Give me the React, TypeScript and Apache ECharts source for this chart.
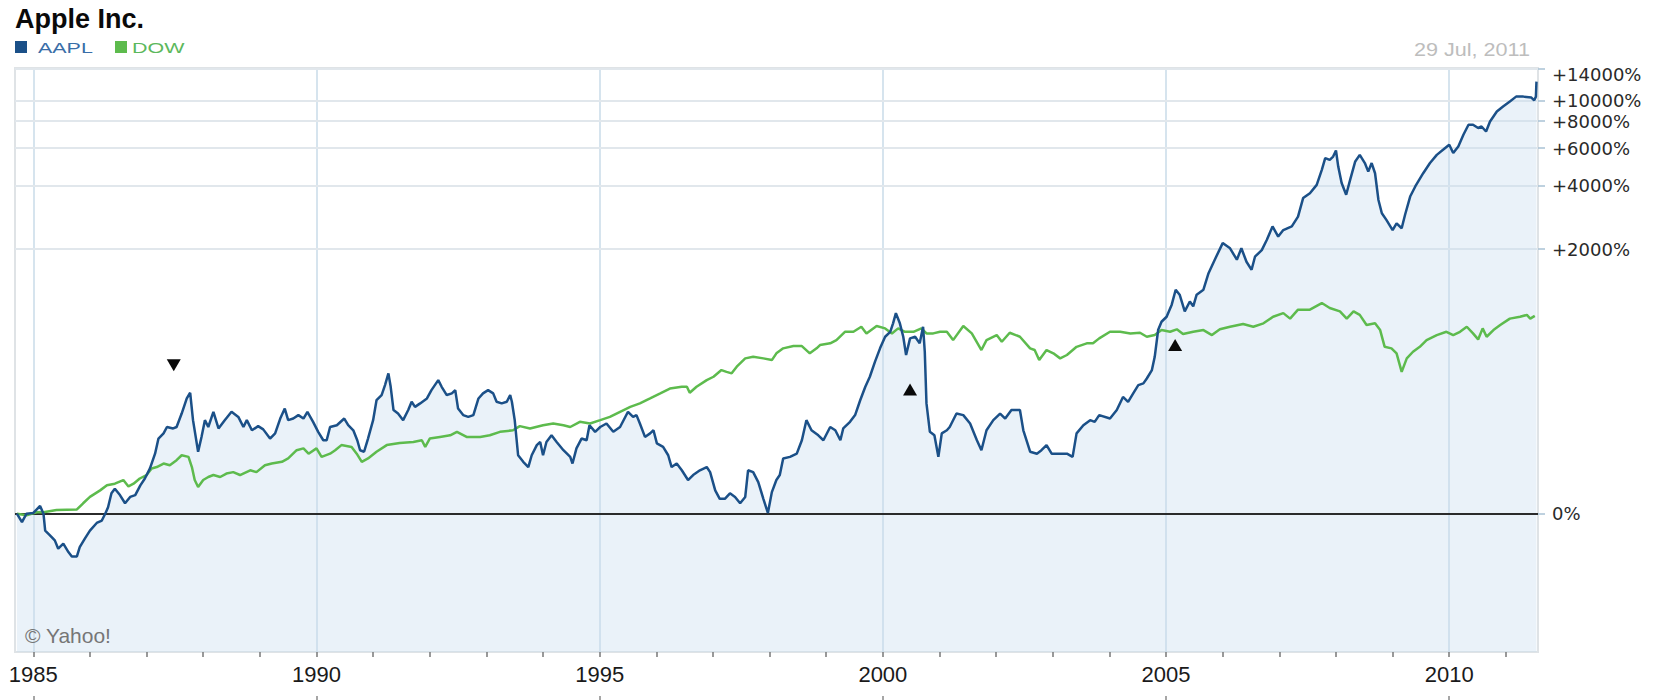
import React, { useEffect, useRef } from 'react';
import * as echarts from 'echarts';

// ---------- texts ----------
const TITLE = 'Apple Inc.';
const DATE_LABEL = '29 Jul, 2011';
const CREDIT = '\u00A9 Yahoo!';
const NAMES = ['AAPL', 'DOW'];
const COLORS = { aapl: '#1b5088', aaplText: '#3a6ea8', dow: '#5dbb4d', dowText: '#5cb85c' };

// ---------- axes ----------
const X_MIN = 1984.677;
const X_MAX = 2011.567;
const Y_MIN = 0.3;
const Y_MAX = 142;
const BASE = 1.29; // level of the "0%" line (start of both series)
const X_TICK_YEARS = [1985, 1986, 1987, 1988, 1989, 1990, 1991, 1992, 1993, 1994, 1995, 1996, 1997, 1998, 1999, 2000, 2001, 2002, 2003, 2004, 2005, 2006, 2007, 2008, 2009, 2010, 2011];
const X_LABEL_YEARS = [1985, 1990, 1995, 2000, 2005, 2010];
const Y_TICK_PCTS = [2000, 4000, 6000, 8000, 10000, 14000];

// ---------- data: [year, growth multiple] ----------
const AAPL: [number, number][] = [
  [1984.71, 1.29], [1984.80, 1.18], [1984.88, 1.29], [1985.00, 1.30], [1985.12, 1.40], [1985.18, 1.29], [1985.21, 1.08], [1985.29, 1.03],
  [1985.38, 0.974], [1985.44, 0.892], [1985.53, 0.940], [1985.62, 0.861], [1985.68, 0.822], [1985.77, 0.822], [1985.82, 0.907], [1985.91, 0.992],
  [1986.00, 1.08], [1986.12, 1.17], [1986.21, 1.20], [1986.27, 1.29], [1986.32, 1.38], [1986.38, 1.60], [1986.44, 1.68], [1986.53, 1.57],
  [1986.62, 1.44], [1986.71, 1.54], [1986.80, 1.57], [1986.89, 1.74], [1986.97, 1.87], [1987.06, 2.08], [1987.15, 2.43], [1987.21, 2.85],
  [1987.30, 3.01], [1987.36, 3.22], [1987.47, 3.17], [1987.53, 3.22], [1987.62, 3.71], [1987.71, 4.35], [1987.77, 4.62], [1987.82, 3.46],
  [1987.91, 2.48], [1987.97, 2.90], [1988.03, 3.46], [1988.09, 3.22], [1988.18, 3.78], [1988.27, 3.17], [1988.38, 3.46], [1988.50, 3.78],
  [1988.62, 3.58], [1988.71, 3.22], [1988.77, 3.46], [1988.86, 3.11], [1988.97, 3.25], [1989.06, 3.14], [1989.18, 2.85], [1989.27, 3.01],
  [1989.36, 3.52], [1989.44, 3.91], [1989.50, 3.46], [1989.59, 3.52], [1989.68, 3.65], [1989.77, 3.52], [1989.84, 3.78], [1989.94, 3.40],
  [1990.03, 3.06], [1990.12, 2.80], [1990.18, 2.80], [1990.24, 3.22], [1990.36, 3.28], [1990.49, 3.52], [1990.56, 3.28], [1990.65, 3.11],
  [1990.72, 2.80], [1990.77, 2.52], [1990.84, 2.48], [1990.91, 2.85], [1991.00, 3.46], [1991.06, 4.27], [1991.15, 4.51], [1991.21, 5.01],
  [1991.27, 5.67], [1991.31, 4.92], [1991.36, 3.85], [1991.44, 3.71], [1991.53, 3.46], [1991.62, 3.85], [1991.68, 4.20], [1991.74, 3.98],
  [1991.83, 4.13], [1991.95, 4.35], [1992.03, 4.75], [1992.15, 5.28], [1992.21, 4.92], [1992.30, 4.51], [1992.39, 4.59], [1992.45, 4.75],
  [1992.50, 3.91], [1992.59, 3.65], [1992.68, 3.58], [1992.77, 3.65], [1992.86, 4.35], [1992.94, 4.59], [1993.03, 4.75], [1993.12, 4.59],
  [1993.18, 4.20], [1993.27, 4.13], [1993.36, 4.20], [1993.42, 4.51], [1993.45, 4.20], [1993.50, 3.46], [1993.56, 2.39], [1993.65, 2.23],
  [1993.74, 2.11], [1993.80, 2.39], [1993.89, 2.66], [1993.95, 2.75], [1994.00, 2.39], [1994.06, 2.75], [1994.15, 2.95], [1994.24, 2.75],
  [1994.36, 2.52], [1994.48, 2.35], [1994.52, 2.19], [1994.59, 2.57], [1994.68, 2.85], [1994.77, 2.80], [1994.82, 3.28], [1994.92, 3.06],
  [1995.01, 3.22], [1995.12, 3.34], [1995.24, 3.06], [1995.36, 3.22], [1995.50, 3.78], [1995.59, 3.58], [1995.65, 3.65], [1995.71, 3.34],
  [1995.80, 2.90], [1995.89, 3.01], [1995.95, 3.11], [1996.01, 2.71], [1996.12, 2.61], [1996.21, 2.39], [1996.27, 2.11], [1996.36, 2.19],
  [1996.45, 2.04], [1996.56, 1.84], [1996.65, 1.94], [1996.77, 2.04], [1996.89, 2.11], [1996.95, 2.00], [1997.04, 1.65], [1997.12, 1.51],
  [1997.21, 1.51], [1997.30, 1.60], [1997.39, 1.54], [1997.48, 1.44], [1997.57, 1.54], [1997.62, 2.04], [1997.71, 2.00], [1997.80, 1.80],
  [1997.89, 1.51], [1997.97, 1.30], [1998.04, 1.62], [1998.12, 1.84], [1998.18, 1.94], [1998.24, 2.31], [1998.36, 2.35], [1998.48, 2.43],
  [1998.57, 2.80], [1998.65, 3.46], [1998.74, 3.11], [1998.86, 2.95], [1998.95, 2.80], [1999.07, 3.22], [1999.16, 3.11], [1999.25, 2.80],
  [1999.30, 3.17], [1999.42, 3.40], [1999.51, 3.65], [1999.60, 4.27], [1999.69, 4.92], [1999.77, 5.47], [1999.86, 6.40], [1999.95, 7.38],
  [2000.04, 8.34], [2000.13, 8.79], [2000.18, 9.61], [2000.23, 10.7], [2000.30, 9.61], [2000.36, 8.34], [2000.41, 6.88], [2000.48, 8.20],
  [2000.57, 8.34], [2000.65, 7.78], [2000.71, 9.27], [2000.74, 7.12], [2000.77, 4.13], [2000.83, 3.06], [2000.91, 2.95], [2000.98, 2.35],
  [2001.04, 3.01], [2001.13, 3.11], [2001.18, 3.22], [2001.30, 3.71], [2001.42, 3.65], [2001.54, 3.34], [2001.66, 2.80], [2001.74, 2.52],
  [2001.83, 3.11], [2001.95, 3.46], [2002.07, 3.71], [2002.16, 3.52], [2002.27, 3.85], [2002.42, 3.85], [2002.48, 3.11], [2002.60, 2.48],
  [2002.72, 2.43], [2002.80, 2.52], [2002.89, 2.66], [2002.98, 2.43], [2003.13, 2.43], [2003.25, 2.43], [2003.35, 2.35], [2003.42, 3.01],
  [2003.54, 3.28], [2003.66, 3.46], [2003.74, 3.40], [2003.82, 3.65], [2004.01, 3.52], [2004.13, 3.85], [2004.24, 4.42], [2004.33, 4.20],
  [2004.42, 4.59], [2004.51, 5.01], [2004.60, 5.10], [2004.66, 5.37], [2004.75, 5.87], [2004.80, 6.75], [2004.86, 8.95], [2004.92, 9.77],
  [2005.01, 10.3], [2005.10, 11.7], [2005.17, 13.7], [2005.24, 13.0], [2005.33, 10.9], [2005.42, 12.1], [2005.48, 11.5], [2005.54, 13.0],
  [2005.66, 13.7], [2005.75, 16.3], [2005.86, 18.8], [2006.00, 22.4], [2006.13, 21.2], [2006.25, 18.8], [2006.33, 21.2], [2006.42, 18.4],
  [2006.51, 16.9], [2006.57, 19.4], [2006.69, 20.8], [2006.78, 23.2], [2006.88, 26.7], [2006.98, 24.0], [2007.07, 25.7], [2007.22, 26.7],
  [2007.33, 29.6], [2007.42, 36.0], [2007.54, 37.9], [2007.66, 41.4], [2007.75, 48.5], [2007.81, 54.9], [2007.89, 53.9], [2007.95, 55.8],
  [2008.00, 59.5], [2008.04, 50.2], [2008.10, 42.2], [2008.18, 37.3], [2008.25, 43.6], [2008.34, 53.0], [2008.42, 56.8], [2008.51, 52.1],
  [2008.57, 47.6], [2008.63, 52.1], [2008.69, 46.8], [2008.75, 35.3], [2008.81, 30.7], [2008.89, 28.6], [2009.00, 25.7], [2009.07, 27.6],
  [2009.16, 26.2], [2009.22, 30.2], [2009.31, 36.6], [2009.40, 40.7], [2009.54, 46.8], [2009.66, 52.1], [2009.78, 56.8], [2009.89, 59.9],
  [2010.00, 63.2], [2010.07, 57.9], [2010.16, 62.1], [2010.25, 70.2], [2010.34, 78.0], [2010.42, 78.0], [2010.51, 75.4], [2010.57, 76.6],
  [2010.65, 72.7], [2010.72, 80.8], [2010.84, 89.8], [2010.95, 94.7], [2011.07, 99.8], [2011.18, 105], [2011.31, 105], [2011.45, 104],
  [2011.50, 101], [2011.53, 105], [2011.54, 123],
];

const DOW: [number, number][] = [
  [1984.71, 1.29], [1984.88, 1.27], [1985.06, 1.31], [1985.18, 1.31], [1985.41, 1.34], [1985.77, 1.35], [1985.88, 1.44], [1986.00, 1.54],
  [1986.18, 1.65], [1986.30, 1.74], [1986.44, 1.77], [1986.59, 1.84], [1986.68, 1.72], [1986.77, 1.77], [1986.88, 1.87], [1987.00, 1.94],
  [1987.09, 2.08], [1987.18, 2.11], [1987.30, 2.19], [1987.41, 2.15], [1987.53, 2.27], [1987.62, 2.39], [1987.74, 2.35], [1987.80, 2.11],
  [1987.85, 1.84], [1987.91, 1.71], [1988.00, 1.84], [1988.09, 1.90], [1988.18, 1.94], [1988.30, 1.90], [1988.41, 1.97], [1988.53, 2.00],
  [1988.65, 1.94], [1988.83, 2.04], [1988.94, 2.00], [1989.09, 2.15], [1989.21, 2.19], [1989.39, 2.23], [1989.50, 2.31], [1989.65, 2.52],
  [1989.77, 2.57], [1989.86, 2.43], [1990.00, 2.57], [1990.09, 2.35], [1990.24, 2.43], [1990.33, 2.52], [1990.44, 2.66], [1990.62, 2.61],
  [1990.71, 2.43], [1990.80, 2.23], [1990.91, 2.31], [1991.06, 2.48], [1991.24, 2.66], [1991.47, 2.72], [1991.71, 2.75], [1991.86, 2.80],
  [1991.92, 2.61], [1992.00, 2.85], [1992.18, 2.90], [1992.36, 2.95], [1992.48, 3.06], [1992.65, 2.90], [1992.89, 2.90], [1993.06, 2.95],
  [1993.24, 3.06], [1993.47, 3.11], [1993.59, 3.25], [1993.77, 3.17], [1994.00, 3.28], [1994.18, 3.34], [1994.36, 3.28], [1994.48, 3.22],
  [1994.65, 3.40], [1994.83, 3.34], [1995.01, 3.46], [1995.18, 3.58], [1995.36, 3.78], [1995.54, 3.98], [1995.71, 4.13], [1995.89, 4.35],
  [1996.07, 4.59], [1996.24, 4.83], [1996.45, 4.92], [1996.54, 4.92], [1996.59, 4.62], [1996.71, 4.92], [1996.89, 5.28], [1997.01, 5.47],
  [1997.15, 5.87], [1997.24, 5.76], [1997.33, 5.67], [1997.42, 6.08], [1997.57, 6.64], [1997.71, 6.75], [1997.89, 6.64], [1998.04, 6.52],
  [1998.12, 7.00], [1998.24, 7.38], [1998.42, 7.56], [1998.57, 7.56], [1998.71, 7.00], [1998.83, 7.38], [1998.89, 7.64], [1999.07, 7.78],
  [1999.18, 8.05], [1999.33, 8.79], [1999.48, 8.79], [1999.62, 9.27], [1999.71, 8.64], [1999.89, 9.34], [2000.04, 9.11], [2000.16, 8.64],
  [2000.27, 9.11], [2000.39, 8.79], [2000.54, 8.79], [2000.68, 9.11], [2000.77, 8.64], [2000.89, 8.64], [2001.01, 8.79], [2001.13, 8.79],
  [2001.24, 8.05], [2001.42, 9.34], [2001.57, 8.64], [2001.74, 7.25], [2001.83, 8.05], [2002.01, 8.49], [2002.10, 7.91], [2002.24, 8.70],
  [2002.42, 8.34], [2002.60, 7.38], [2002.68, 7.25], [2002.76, 6.52], [2002.89, 7.25], [2003.01, 7.00], [2003.13, 6.64], [2003.25, 6.88],
  [2003.42, 7.50], [2003.60, 7.78], [2003.71, 7.78], [2003.82, 8.20], [2004.01, 8.79], [2004.19, 8.79], [2004.37, 8.64], [2004.54, 8.70],
  [2004.66, 8.34], [2004.80, 8.49], [2004.92, 8.95], [2005.07, 8.79], [2005.19, 9.02], [2005.30, 8.58], [2005.48, 8.79], [2005.66, 8.95],
  [2005.81, 8.49], [2005.95, 9.02], [2006.13, 9.27], [2006.36, 9.54], [2006.54, 9.27], [2006.72, 9.61], [2006.89, 10.3], [2007.07, 10.7],
  [2007.19, 10.1], [2007.33, 11.1], [2007.54, 11.1], [2007.75, 11.9], [2007.89, 11.3], [2008.07, 10.9], [2008.19, 10.1], [2008.31, 10.9],
  [2008.42, 10.5], [2008.54, 9.44], [2008.69, 9.61], [2008.78, 8.95], [2008.86, 7.50], [2008.98, 7.38], [2009.07, 7.00], [2009.16, 5.76],
  [2009.25, 6.64], [2009.36, 7.12], [2009.48, 7.50], [2009.60, 8.05], [2009.78, 8.49], [2009.95, 8.79], [2010.07, 8.49], [2010.19, 8.79],
  [2010.31, 9.27], [2010.42, 8.64], [2010.51, 8.11], [2010.59, 9.11], [2010.66, 8.34], [2010.78, 8.95], [2010.90, 9.44], [2011.07, 10.1],
  [2011.25, 10.3], [2011.37, 10.5], [2011.43, 10.1], [2011.51, 10.4],
];

// split events (triangles)
const SPLIT_YEARS = [1987.48, 2000.48, 2005.16];
const SPLIT_LEVELS = [6.18, 4.78, 7.64];
const SPLIT_POINTS_DOWN = [true, false, false];

const Y_TICK_VALUES = [BASE, ...Y_TICK_PCTS.map((p) => 1 + p / 100)];
const Y_TICK_LABELS = ['0%', ...Y_TICK_PCTS.map((p) => `+${p}%`)];

function yLabel(v: number): string {
  let best = 0;
  let bd = Infinity;
  Y_TICK_VALUES.forEach((t, i) => {
    const d = Math.abs(Math.log(v) - Math.log(t));
    if (d < bd) { bd = d; best = i; }
  });
  const t = Y_TICK_LABELS[best];
  return best === Y_TICK_VALUES.length - 1 ? `{top|${t}}` : t;
}

function buildOption(): any {
  const yLabelFont = { fontFamily: 'DejaVu Sans', fontSize: 18, color: '#2a2a2a' };
  return {
    animation: false,
    backgroundColor: '#ffffff',
    grid: {
      left: 15, right: 122, top: 68, bottom: 48,
      show: true, borderColor: '#dfe3e6', borderWidth: 2, backgroundColor: 'transparent',
      containLabel: false, outerBoundsMode: 'none',
    },
    xAxis: [
      {
        type: 'value', min: X_MIN, max: X_MAX, position: 'bottom',
        axisLine: { show: false },
        splitLine: { show: false },
        axisTick: { show: true, customValues: X_TICK_YEARS, length: 5, lineStyle: { color: '#777', width: 1.5 } },
        axisLabel: {
          show: true, customValues: X_LABEL_YEARS, margin: 11,
          formatter: (v: number) => String(Math.round(v)),
          fontFamily: "'Liberation Sans Narrow', 'Liberation Sans', sans-serif", fontSize: 22, color: '#1a1a1a',
        },
      },
      {
        type: 'value', min: X_MIN, max: X_MAX, position: 'bottom', offset: 44,
        axisLine: { show: false }, splitLine: { show: false },
        axisTick: { show: true, customValues: X_LABEL_YEARS, length: 5, lineStyle: { color: '#888', width: 1.5 } },
        axisLabel: { show: false },
      },
    ],
    yAxis: {
      type: 'log', logBase: 10, min: Y_MIN, max: Y_MAX, position: 'right',
      axisLine: { show: false },
      splitLine: { show: false },
      axisTick: { show: true, customValues: Y_TICK_VALUES, length: 7, lineStyle: { color: '#a9c2d4', width: 1.5 } },
      axisLabel: {
        show: true, customValues: Y_TICK_VALUES, margin: 14,
        formatter: yLabel,
        ...yLabelFont,
        rich: { top: { ...yLabelFont, padding: [12, 0, 0, 0] } },
      },
    },
    series: [
      {
        name: NAMES[0] + ' area', type: 'line', data: AAPL, showSymbol: false, silent: true, z: 2,
        lineStyle: { width: 0, opacity: 0 },
        areaStyle: { color: 'rgba(200,221,239,0.55)', origin: 'start' },
        markLine: {
          silent: true, symbol: ['none', 'none'], z: 1, label: { show: false },
          emphasis: { disabled: true },
          data: [
            ...X_LABEL_YEARS.map((y) => ({ xAxis: y, lineStyle: { color: '#c8dbe9', width: 1.5, type: 'solid' } })),
            ...Y_TICK_PCTS.map((p) => ({ yAxis: 1 + p / 100, lineStyle: { color: '#e1e7ec', width: 2, type: 'solid' } })),
          ],
        },
      },
      {
        name: NAMES[1], type: 'line', data: DOW, showSymbol: false, silent: true, z: 4,
        lineStyle: { color: COLORS.dow, width: 2.5 },
        markLine: {
          silent: true, symbol: ['none', 'none'], z: 3, label: { show: false },
          emphasis: { disabled: true },
          data: [{ yAxis: BASE, lineStyle: { color: '#2b2b2b', width: 2, type: 'solid' } }],
        },
      },
      {
        name: NAMES[0], type: 'line', data: AAPL, showSymbol: false, silent: true, z: 5,
        lineStyle: { color: COLORS.aapl, width: 2.5 },
      },
      {
        name: 'splits', type: 'scatter', silent: true, z: 6,
        symbol: 'triangle', symbolSize: [14, 12],
        itemStyle: { color: '#0a0a0a', opacity: 1 },
        data: SPLIT_YEARS.map((y, i) => ({
          value: [y, SPLIT_LEVELS[i]],
          symbolRotate: SPLIT_POINTS_DOWN[i] ? 180 : 0,
        })),
      },
    ],
    graphic: [
      {
        type: 'text', x: 15, y: 19, silent: true,
        style: { text: TITLE, fontFamily: 'Liberation Sans', fontWeight: 'bold', fontSize: 27, fill: '#0a0a0a', textAlign: 'left', verticalAlign: 'middle' },
      },
      { type: 'rect', shape: { x: 15, y: 41, width: 12, height: 12 }, style: { fill: COLORS.aapl }, silent: true },
      {
        type: 'text', x: 38, y: 48, scaleX: 1.43, silent: true,
        style: { text: NAMES[0], fontFamily: 'Liberation Sans', fontSize: 15, fill: COLORS.aaplText, textAlign: 'left', verticalAlign: 'middle' },
      },
      { type: 'rect', shape: { x: 115, y: 41, width: 12, height: 12 }, style: { fill: COLORS.dow }, silent: true },
      {
        type: 'text', x: 132, y: 48, scaleX: 1.43, silent: true,
        style: { text: NAMES[1], fontFamily: 'Liberation Sans', fontSize: 15, fill: COLORS.dowText, textAlign: 'left', verticalAlign: 'middle' },
      },
      {
        type: 'text', x: 1530, y: 50, scaleX: 1.2, silent: true,
        style: { text: DATE_LABEL, fontFamily: 'Liberation Sans', fontSize: 18, fill: '#bdbdbd', textAlign: 'right', verticalAlign: 'middle' },
      },
      {
        type: 'text', x: 25, y: 635, silent: true, z: 10,
        style: { text: CREDIT, fontFamily: 'Liberation Sans', fontSize: 21, fill: '#767676', textAlign: 'left', verticalAlign: 'middle' },
      },
    ],
  };
}

export default function App() {
  const ref = useRef<HTMLDivElement>(null);
  useEffect(() => {
    document.body.style.margin = '0';
    const chart = echarts.init(ref.current as HTMLDivElement, null, { renderer: 'svg' });
    chart.setOption(buildOption());
    return () => chart.dispose();
  }, []);
  return <div ref={ref} style={{ width: 1660, height: 700 }} />;
}
